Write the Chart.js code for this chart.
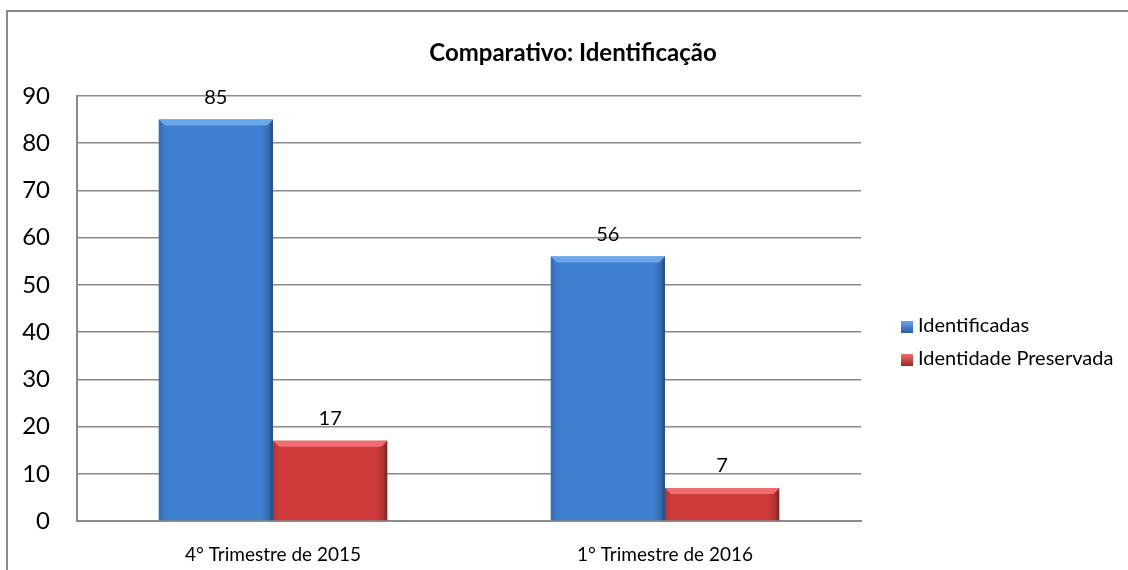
<!DOCTYPE html>
<html>
<head>
<meta charset="utf-8">
<script src="https://cdn.jsdelivr.net/npm/chart.js@4.4.0/dist/chart.umd.min.js"></script>
<style>
  html, body { margin: 0; padding: 0; background: #fff; }
  #wrap { position: relative; width: 1128px; height: 570px; overflow: hidden; }
  #frame { position: absolute; left: 6px; top: 10px; width: 1300px; height: 700px;
           border-left: 2px solid #8a8a8a; border-top: 2px solid #8a8a8a; }
  #myChart { position: absolute; left: 0; top: 0; }
  #title { position: absolute; left: 0; width: 1146px; top: 37px; text-align: center;
           font-family: Lato, sans-serif; font-weight: bold; font-size: 24px; line-height: 30px; color: #000; }
  #legend { position: absolute; left: 901px; top: 310px; font-family: Lato, sans-serif; font-size: 20px; color: #000; }
  #legend div { height: 33px; line-height: 28px; white-space: nowrap; }
  #legend span { display: inline-block; width: 12px; height: 12px; margin-right: 5px; vertical-align: -1px; }
</style>
</head>
<body>
<div id="wrap">
  <div id="frame"></div>
  <canvas id="myChart" width="1128" height="570"></canvas>
  <div id="title">Comparativo: Identificação</div>
  <div id="legend"></div>
</div>
<script>
const categories = ['4° Trimestre de 2015', '1° Trimestre de 2016'];
const identificadas = [85, 56];
const preservada = [17, 7];
const yTicks = [0, 10, 20, 30, 40, 50, 60, 70, 80, 90];
const seriesNames = ['Identificadas', 'Identidade Preservada'];

const baseColors = ['#3f7fd0', '#d03c3c'];
const darkColors = ['#2a5a9c', '#9c2626'];
const lightColors = ['#6aa6ec', '#ee6e6e'];

const legend = document.getElementById('legend');
seriesNames.forEach((name, i) => {
  const row = document.createElement('div');
  row.innerHTML = `<span style="background: linear-gradient(${lightColors[i]}, ${darkColors[i]})"></span>${name}`;
  legend.appendChild(row);
});

const bevelPlugin = {
  id: 'bevel',
  afterDatasetsDraw(chart) {
    const ctx = chart.ctx;
    chart.data.datasets.forEach((ds, di) => {
      const meta = chart.getDatasetMeta(di);
      meta.data.forEach((bar, i) => {
        const left = bar.x - bar.width / 2;
        const right = bar.x + bar.width / 2;
        const top = bar.y;
        const bottom = bar.base;
        const b = 6;
        ctx.save();
        // side shading
        const g = ctx.createLinearGradient(left, 0, right, 0);
        g.addColorStop(0, 'rgba(0,0,0,0.15)');
        g.addColorStop(0.07, 'rgba(0,0,0,0)');
        g.addColorStop(0.9, 'rgba(0,0,0,0)');
        g.addColorStop(1, 'rgba(0,0,0,0.25)');
        ctx.fillStyle = g;
        ctx.fillRect(left, top, right - left, bottom - top);
        // top bevel
        ctx.beginPath();
        ctx.moveTo(left, top);
        ctx.lineTo(right, top);
        ctx.lineTo(right - b, top + b);
        ctx.lineTo(left + b, top + b);
        ctx.closePath();
        ctx.fillStyle = lightColors[di];
        ctx.fill();
        // right bevel
        ctx.beginPath();
        ctx.moveTo(right, top);
        ctx.lineTo(right, bottom);
        ctx.lineTo(right - 3, bottom);
        ctx.lineTo(right - 3, top + b);
        ctx.closePath();
        ctx.fillStyle = 'rgba(0,0,0,0.15)';
        ctx.fill();
        // value label
        ctx.fillStyle = '#000';
        ctx.font = '20px Lato, sans-serif';
        ctx.textAlign = 'center';
        ctx.textBaseline = 'alphabetic';
        ctx.fillText(ds.data[i], bar.x, top - 16);
        ctx.restore();
      });
    });
  }
};

const ctx = document.getElementById('myChart').getContext('2d');
const myChart = new Chart(ctx, {
  type: 'bar',
  data: {
    labels: categories,
    datasets: [{
      label: seriesNames[0],
      data: identificadas,
      backgroundColor: baseColors[0],
      borderWidth: 0
    }, {
      label: seriesNames[1],
      data: preservada,
      backgroundColor: baseColors[1],
      borderWidth: 0
    }]
  },
  options: {
    responsive: false,
    animation: false,
    layout: { padding: { top: 96, right: 267, left: 0, bottom: 0 } },
    datasets: { bar: { categoryPercentage: 0.583, barPercentage: 1 } },
    plugins: {
      legend: { display: false },
      tooltip: { enabled: false },
      title: { display: false }
    },
    scales: {
      x: {
        grid: { display: false },
        border: { display: true, color: '#8a8a8a', width: 2 },
        ticks: { color: '#000', font: { family: 'Lato, sans-serif', size: 19 }, padding: 14 },
        afterFit(scale) { scale.height = 49; }
      },
      y: {
        min: 0,
        max: 90,
        afterBuildTicks(scale) { scale.ticks = yTicks.map(v => ({ value: v })); },
        grid: { color: '#8a8a8a', lineWidth: 1.5, drawTicks: false },
        border: { display: true, color: '#8a8a8a', width: 2 },
        ticks: { color: '#000', font: { family: 'Lato, sans-serif', size: 24 }, padding: 27 },
        afterFit(scale) { scale.width = 77; }
      }
    }
  },
  plugins: [bevelPlugin]
});
</script>
</body>
</html>
